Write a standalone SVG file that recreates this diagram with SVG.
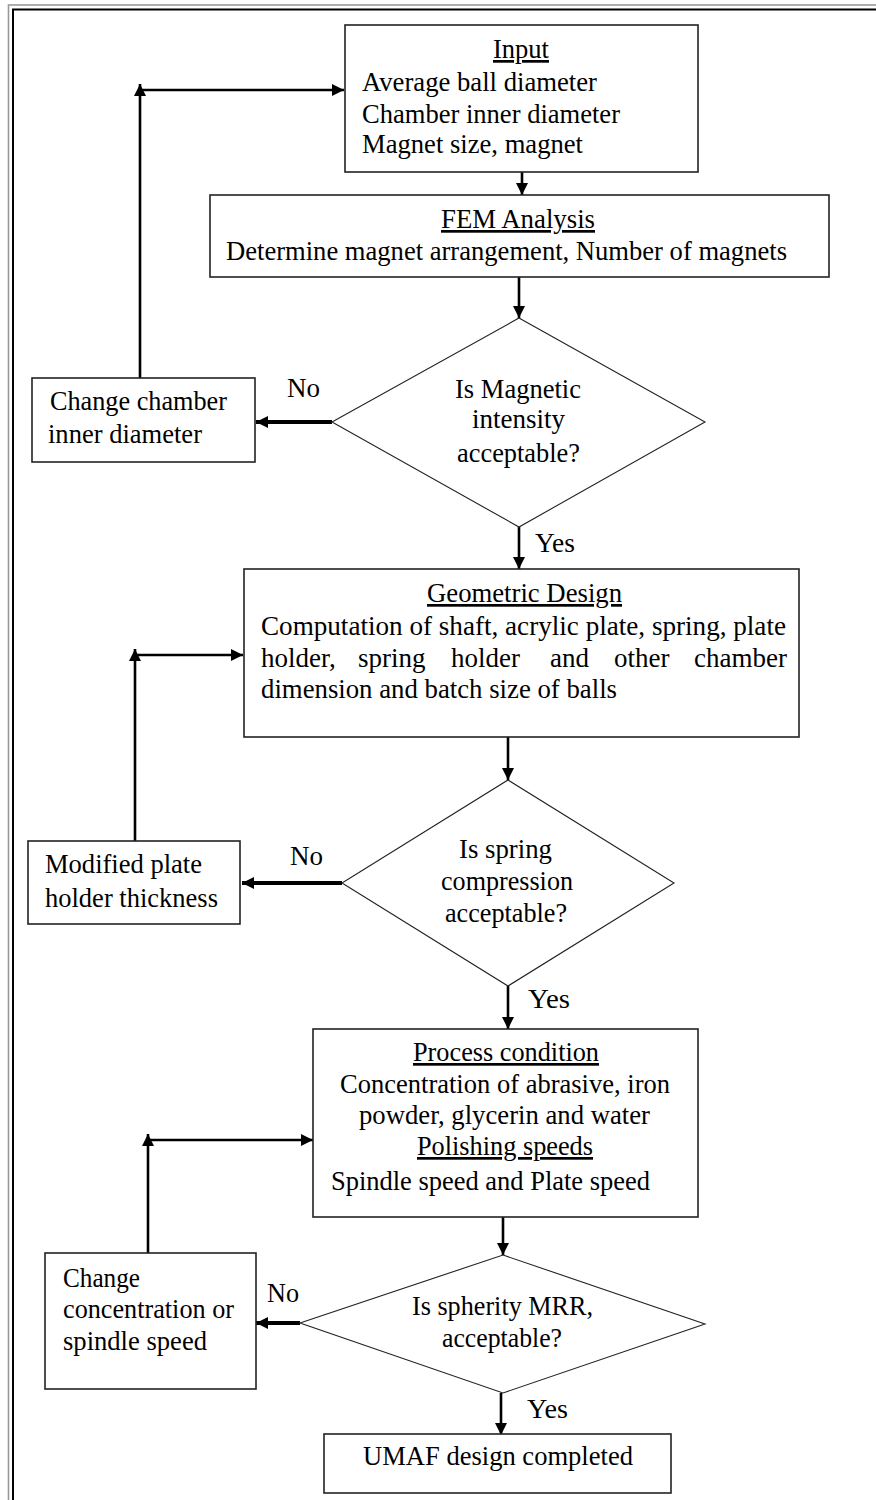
<svg xmlns="http://www.w3.org/2000/svg" width="876" height="1500" viewBox="0 0 876 1500">
<style>
text{font-family:'Liberation Serif','DejaVu Serif','Times New Roman',serif;font-size:27px;fill:#000}
.u{text-decoration:underline}
.box{fill:#fff;stroke:#222;stroke-width:1.6}
.dia{fill:#fff;stroke:#222;stroke-width:1.1}
.con{fill:none;stroke:#000;stroke-width:2.6}
.no{fill:none;stroke:#000;stroke-width:4}
</style>
<defs>
<marker id="ah" markerUnits="userSpaceOnUse" markerWidth="14" markerHeight="14" refX="12" refY="6" orient="auto"><path d="M0,0 L12,6 L0,12 Z" fill="#000"/></marker>
</defs>
<rect x="0" y="0" width="876" height="1500" fill="#fff"/>
<g id="frame">
<rect x="8.5" y="5" width="880" height="1510" fill="none" stroke="#999" stroke-width="1.6"/>
<rect x="13" y="9.5" width="880" height="1510" fill="none" stroke="#000" stroke-width="2"/>
</g>
<g id="connectors">
<path class="con" d="M522,172 V195" marker-end="url(#ah)"/>
<path class="con" d="M519,277 V318" marker-end="url(#ah)"/>
<path class="no" d="M332,422 H256" marker-end="url(#ah)"/>
<path class="con" d="M140,378 V84" marker-end="url(#ah)"/>
<path class="con" d="M140,90 H344" marker-end="url(#ah)"/>
<path class="con" d="M519,527 V569" marker-end="url(#ah)"/>
<path class="con" d="M508,737 V780" marker-end="url(#ah)"/>
<path class="no" d="M342,883 H242" marker-end="url(#ah)"/>
<path class="con" d="M135,841 V649" marker-end="url(#ah)"/>
<path class="con" d="M135,655 H243" marker-end="url(#ah)"/>
<path class="con" d="M508,986 V1029" marker-end="url(#ah)"/>
<path class="con" d="M503,1217 V1255" marker-end="url(#ah)"/>
<path class="no" d="M300,1323 H256" marker-end="url(#ah)"/>
<path class="con" d="M148,1253 V1134" marker-end="url(#ah)"/>
<path class="con" d="M148,1140 H313" marker-end="url(#ah)"/>
<path class="con" d="M501,1393 V1435" marker-end="url(#ah)"/>
<text x="287" y="397" textLength="33" lengthAdjust="spacingAndGlyphs">No</text>
<text x="535" y="552" textLength="40" lengthAdjust="spacingAndGlyphs">Yes</text>
<text x="290" y="865" textLength="33" lengthAdjust="spacingAndGlyphs">No</text>
<text x="528" y="1008" textLength="42" lengthAdjust="spacingAndGlyphs">Yes</text>
<text x="267" y="1302" textLength="32" lengthAdjust="spacingAndGlyphs">No</text>
<text x="527" y="1418" textLength="41" lengthAdjust="spacingAndGlyphs">Yes</text>
</g>
<g id="input">
<rect class="box" x="345" y="25" width="353" height="147"/>
<text class="u" x="493" y="58" textLength="56" lengthAdjust="spacingAndGlyphs">Input</text>
<text x="362" y="91" textLength="235" lengthAdjust="spacingAndGlyphs">Average ball diameter</text>
<text x="362" y="123" textLength="258" lengthAdjust="spacingAndGlyphs">Chamber inner diameter</text>
<text x="362" y="153" textLength="221" lengthAdjust="spacingAndGlyphs">Magnet size, magnet</text>
</g>
<g id="fem">
<rect class="box" x="210" y="195" width="619" height="82"/>
<text class="u" x="441" y="228" textLength="154" lengthAdjust="spacingAndGlyphs">FEM Analysis</text>
<text x="226" y="260" textLength="561" lengthAdjust="spacingAndGlyphs">Determine magnet arrangement, Number of magnets</text>
</g>
<g id="decision-magnetic">
<polygon class="dia" points="519,318 705,422 519,527 332,422"/>
<text x="455" y="398" textLength="126" lengthAdjust="spacingAndGlyphs">Is Magnetic</text>
<text x="472" y="428" textLength="93" lengthAdjust="spacingAndGlyphs">intensity</text>
<text x="457" y="462" textLength="123" lengthAdjust="spacingAndGlyphs">acceptable?</text>
</g>
<g id="change-chamber">
<rect class="box" x="32" y="378" width="223" height="84"/>
<text x="50" y="410" textLength="177" lengthAdjust="spacingAndGlyphs">Change chamber</text>
<text x="48" y="443" textLength="154" lengthAdjust="spacingAndGlyphs">inner diameter</text>
</g>
<g id="geometric">
<rect class="box" x="244" y="569" width="555" height="168"/>
<text class="u" x="427" y="602" textLength="195" lengthAdjust="spacingAndGlyphs">Geometric Design</text>
<text x="261" y="635" textLength="525" lengthAdjust="spacingAndGlyphs">Computation of shaft, acrylic plate, spring, plate</text>
<text y="667"><tspan x="261">holder,</tspan><tspan x="358">spring</tspan><tspan x="451">holder</tspan><tspan x="550">and</tspan><tspan x="614">other</tspan><tspan x="694">chamber</tspan></text>
<text x="261" y="698" textLength="356" lengthAdjust="spacingAndGlyphs">dimension and batch size of balls</text>
</g>
<g id="decision-spring">
<polygon class="dia" points="508,780 674,883 508,986 342,883"/>
<text x="459" y="858" textLength="93" lengthAdjust="spacingAndGlyphs">Is spring</text>
<text x="441" y="890" textLength="132" lengthAdjust="spacingAndGlyphs">compression</text>
<text x="445" y="922" textLength="122" lengthAdjust="spacingAndGlyphs">acceptable?</text>
</g>
<g id="modified-plate">
<rect class="box" x="28" y="841" width="212" height="83"/>
<text x="45" y="873" textLength="157" lengthAdjust="spacingAndGlyphs">Modified plate</text>
<text x="45" y="907" textLength="173" lengthAdjust="spacingAndGlyphs">holder thickness</text>
</g>
<g id="process">
<rect class="box" x="313" y="1029" width="385" height="188"/>
<text class="u" x="413" y="1061" textLength="186" lengthAdjust="spacingAndGlyphs">Process condition</text>
<text x="340" y="1093" textLength="330" lengthAdjust="spacingAndGlyphs">Concentration of abrasive, iron</text>
<text x="359" y="1124" textLength="291" lengthAdjust="spacingAndGlyphs">powder, glycerin and water</text>
<text class="u" x="417" y="1155" textLength="176" lengthAdjust="spacingAndGlyphs">Polishing speeds</text>
<text x="331" y="1190" textLength="319" lengthAdjust="spacingAndGlyphs">Spindle speed and Plate speed</text>
</g>
<g id="decision-sphericity">
<polygon class="dia" points="503,1255 705,1324 503,1393 300,1323"/>
<text x="412" y="1315" textLength="181" lengthAdjust="spacingAndGlyphs">Is spherity MRR,</text>
<text x="442" y="1347" textLength="120" lengthAdjust="spacingAndGlyphs">acceptable?</text>
</g>
<g id="change-concentration">
<rect class="box" x="45" y="1253" width="211" height="136"/>
<text x="63" y="1287" textLength="77" lengthAdjust="spacingAndGlyphs">Change</text>
<text x="63" y="1318" textLength="171" lengthAdjust="spacingAndGlyphs">concentration or</text>
<text x="63" y="1350" textLength="144" lengthAdjust="spacingAndGlyphs">spindle speed</text>
</g>
<g id="umaf">
<rect class="box" x="324" y="1434" width="347" height="59"/>
<text x="363" y="1465" textLength="270" lengthAdjust="spacingAndGlyphs">UMAF design completed</text>
</g>
</svg>
